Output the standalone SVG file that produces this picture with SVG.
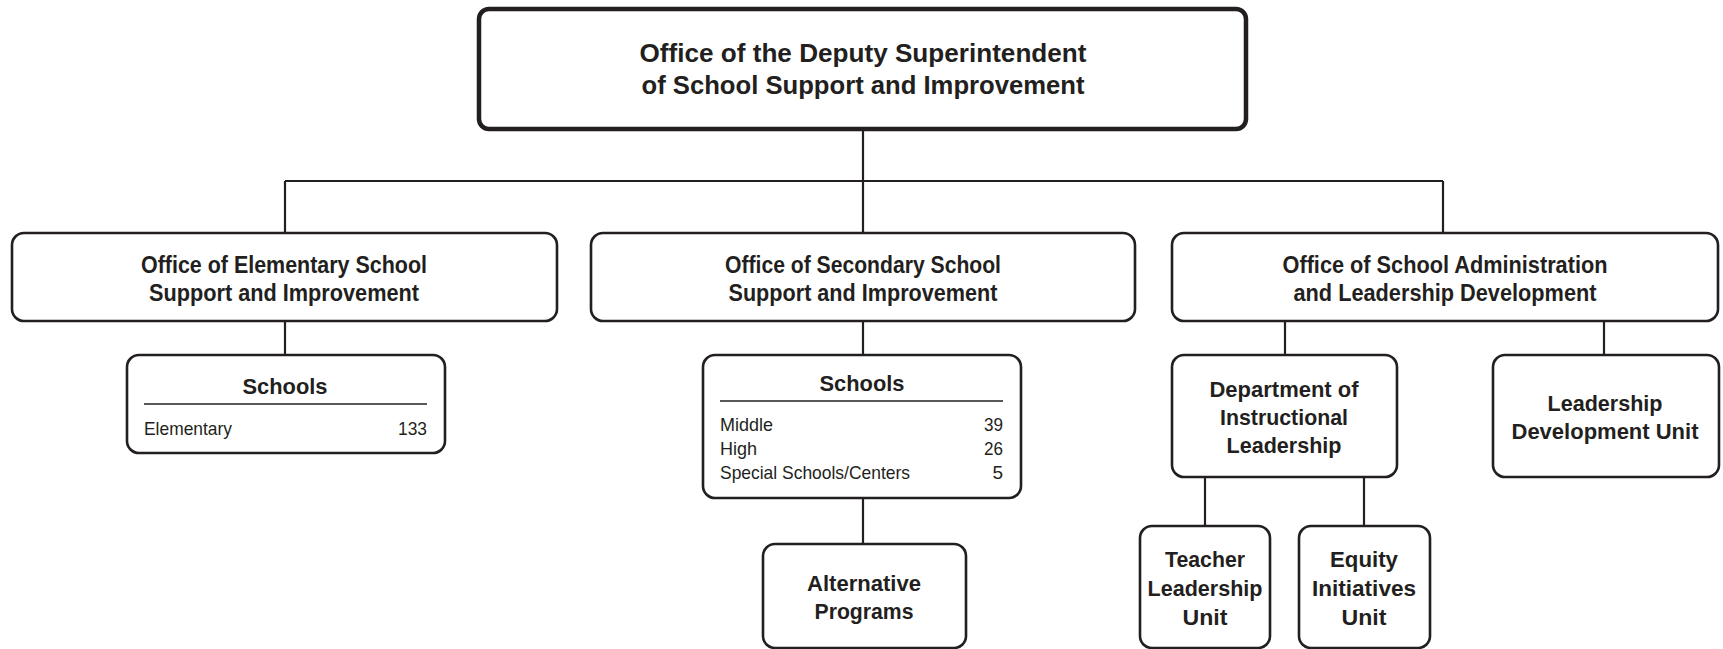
<svg xmlns="http://www.w3.org/2000/svg" width="1723" height="649" viewBox="0 0 1723 649">
<style>
.box{fill:#fff;stroke:#231f20;stroke-width:2.6}
.top{fill:#fff;stroke:#231f20;stroke-width:4.5}
.con{fill:none;stroke:#231f20;stroke-width:2.2}
.rule{stroke:#231f20;stroke-width:1.3}
text{font-family:"Liberation Sans Narrow","Liberation Sans",Arial,sans-serif;fill:#231f20}
.h1{font-size:26.5px;font-weight:bold;text-anchor:middle}
.h2{font-size:23px;font-weight:bold;text-anchor:middle}
.h3{font-size:22.5px;font-weight:bold;text-anchor:middle}
.b{font-size:19px}
.r{font-size:19px;text-anchor:end}
</style>
<g id="connectors">
<path class="con" d="M863 129V181M285 181H1443M285 181V233M863 181V233M1443 181V233"/>
<path class="con" d="M285 321V355M863 321V355M863 498V544"/>
<path class="con" d="M1285 321V355M1604 321V355M1205 477V526M1364 477V526"/>
</g>
<g id="deputy">
<rect class="top" x="479" y="9" width="767" height="120" rx="10"/>
<text class="h1" x="863" y="62" textLength="447" lengthAdjust="spacingAndGlyphs">Office of the Deputy Superintendent</text>
<text class="h1" x="863" y="94" textLength="443" lengthAdjust="spacingAndGlyphs">of School Support and Improvement</text>
</g>
<g id="elementary">
<rect class="box" x="12" y="233" width="545" height="88" rx="12"/>
<text class="h2" x="284" y="273" textLength="286" lengthAdjust="spacingAndGlyphs">Office of Elementary School</text>
<text class="h2" x="284" y="301" textLength="270" lengthAdjust="spacingAndGlyphs">Support and Improvement</text>
</g>
<g id="secondary">
<rect class="box" x="591" y="233" width="544" height="88" rx="12"/>
<text class="h2" x="863" y="273" textLength="276" lengthAdjust="spacingAndGlyphs">Office of Secondary School</text>
<text class="h2" x="863" y="301" textLength="269" lengthAdjust="spacingAndGlyphs">Support and Improvement</text>
</g>
<g id="administration">
<rect class="box" x="1172" y="233" width="546" height="88" rx="12"/>
<text class="h2" x="1445" y="273" textLength="325" lengthAdjust="spacingAndGlyphs">Office of School Administration</text>
<text class="h2" x="1445" y="301" textLength="303" lengthAdjust="spacingAndGlyphs">and Leadership Development</text>
</g>
<g id="schools-elementary">
<rect class="box" x="127" y="355" width="318" height="98" rx="12"/>
<text class="h3" x="285" y="394" textLength="85" lengthAdjust="spacingAndGlyphs">Schools</text>
<line class="rule" x1="144" y1="404" x2="427" y2="404"/>
<text class="b" x="144" y="435" textLength="88" lengthAdjust="spacingAndGlyphs">Elementary</text>
<text class="r" x="427" y="435" textLength="29" lengthAdjust="spacingAndGlyphs">133</text>
</g>
<g id="schools-secondary">
<rect class="box" x="703" y="355" width="318" height="143" rx="12"/>
<text class="h3" x="862" y="391" textLength="85" lengthAdjust="spacingAndGlyphs">Schools</text>
<line class="rule" x1="720" y1="401" x2="1003" y2="401"/>
<text class="b" x="720" y="431" textLength="53" lengthAdjust="spacingAndGlyphs">Middle</text>
<text class="r" x="1003" y="431" textLength="19" lengthAdjust="spacingAndGlyphs">39</text>
<text class="b" x="720" y="455" textLength="37" lengthAdjust="spacingAndGlyphs">High</text>
<text class="r" x="1003" y="455" textLength="19" lengthAdjust="spacingAndGlyphs">26</text>
<text class="b" x="720" y="479" textLength="190" lengthAdjust="spacingAndGlyphs">Special Schools/Centers</text>
<text class="r" x="1003" y="479">5</text>
</g>
<g id="alternative">
<rect class="box" x="763" y="544" width="203" height="104" rx="12"/>
<text class="h3" x="864" y="591" textLength="114" lengthAdjust="spacingAndGlyphs">Alternative</text>
<text class="h3" x="864" y="619" textLength="99" lengthAdjust="spacingAndGlyphs">Programs</text>
</g>
<g id="instructional">
<rect class="box" x="1172" y="355" width="225" height="122" rx="12"/>
<text class="h3" x="1284" y="397" textLength="149" lengthAdjust="spacingAndGlyphs">Department of</text>
<text class="h3" x="1284" y="425" textLength="128" lengthAdjust="spacingAndGlyphs">Instructional</text>
<text class="h3" x="1284" y="453" textLength="115" lengthAdjust="spacingAndGlyphs">Leadership</text>
</g>
<g id="leadership-dev">
<rect class="box" x="1493" y="355" width="226" height="122" rx="12"/>
<text class="h3" x="1605" y="411" textLength="115" lengthAdjust="spacingAndGlyphs">Leadership</text>
<text class="h3" x="1605" y="439" textLength="187" lengthAdjust="spacingAndGlyphs">Development Unit</text>
</g>
<g id="teacher">
<rect class="box" x="1140" y="526" width="130" height="122" rx="12"/>
<text class="h3" x="1205" y="567" textLength="80" lengthAdjust="spacingAndGlyphs">Teacher</text>
<text class="h3" x="1205" y="596" textLength="115" lengthAdjust="spacingAndGlyphs">Leadership</text>
<text class="h3" x="1205" y="625" textLength="45" lengthAdjust="spacingAndGlyphs">Unit</text>
</g>
<g id="equity">
<rect class="box" x="1299" y="526" width="131" height="122" rx="12"/>
<text class="h3" x="1364" y="567" textLength="68" lengthAdjust="spacingAndGlyphs">Equity</text>
<text class="h3" x="1364" y="596" textLength="104" lengthAdjust="spacingAndGlyphs">Initiatives</text>
<text class="h3" x="1364" y="625" textLength="45" lengthAdjust="spacingAndGlyphs">Unit</text>
</g>
</svg>
